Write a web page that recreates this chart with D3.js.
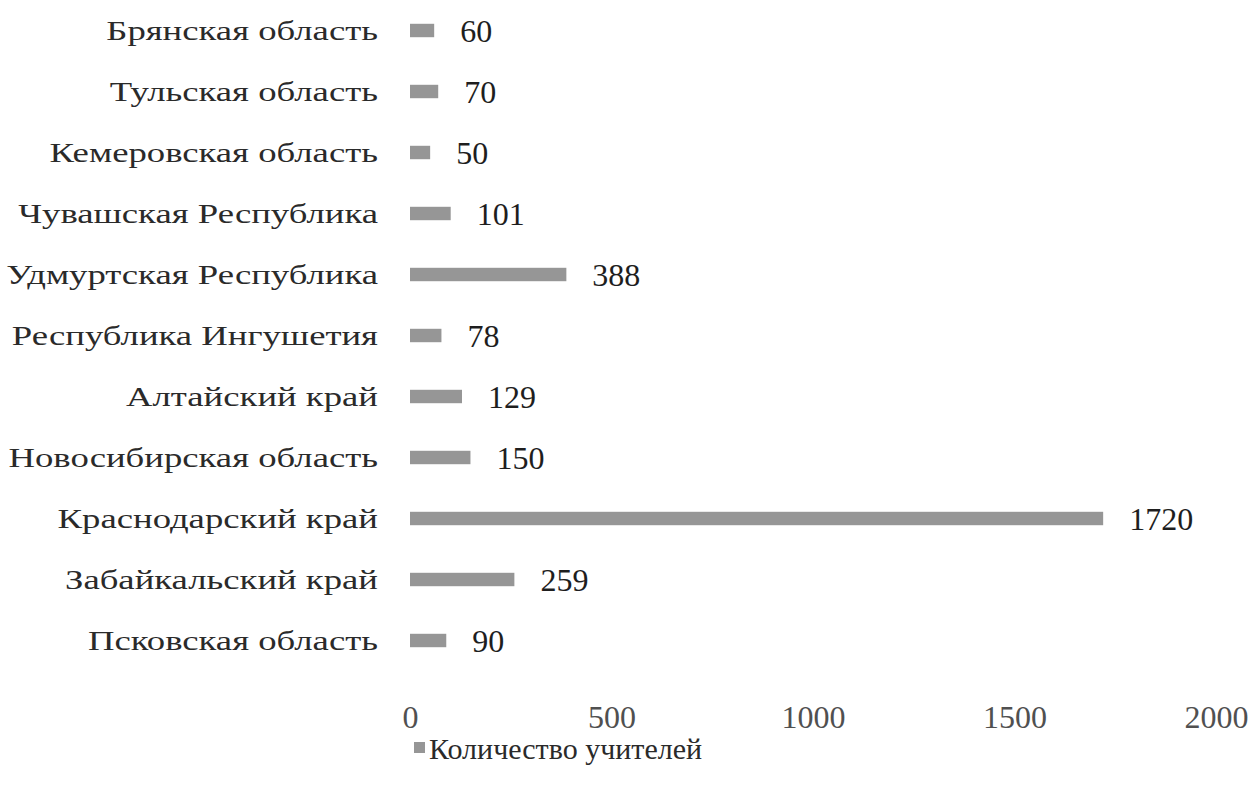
<!DOCTYPE html>
<html>
<head>
<meta charset="utf-8">
<script src="https://cdnjs.cloudflare.com/ajax/libs/d3/7.8.5/d3.min.js"></script>
<style>
  body { margin: 0; background: #fff; }
  text { font-family: "Liberation Serif", "DejaVu Serif", serif; }
</style>
</head>
<body>
<svg id="chart" width="1257" height="796"></svg>
<script>
  // regions, from top to bottom as drawn
  var regions = [
    "Брянская область",
    "Тульская область",
    "Кемеровская область",
    "Чувашская Республика",
    "Удмуртская Республика",
    "Республика Ингушетия",
    "Алтайский край",
    "Новосибирская область",
    "Краснодарский край",
    "Забайкальский край",
    "Псковская область"
  ];
  var teachers = [60, 70, 50, 101, 388, 78, 129, 150, 1720, 259, 90];
  var xTicks = [0, 500, 1000, 1500, 2000];
  var seriesName = "Количество учителей";

  var margin = {top: 0, left: 410, right: 41, bottom: 125};
  var W = 1257, H = 796;
  var plotW = W - margin.left - margin.right;
  var plotH = H - margin.top - margin.bottom;
  var barColor = "#969696";

  var svg = d3.select("#chart");
  var g = svg.append("g")
    .attr("transform", "translate(" + margin.left + "," + margin.top + ")");

  var x = d3.scaleLinear().domain([0, 2000]).range([0, plotW]);
  var y = d3.scaleBand().domain(regions).range([0, plotH])
    .paddingInner(0.78).paddingOuter(0.39);

  var data = regions.map(function(r, i) { return {name: r, value: teachers[i]}; });

  // bars
  g.selectAll("rect.bar")
    .data(data)
    .enter().append("rect")
    .attr("class", "bar")
    .attr("x", x(0))
    .attr("y", function(d) { return y(d.name); })
    .attr("width", function(d) { return x(d.value) - x(0); })
    .attr("height", y.bandwidth())
    .attr("fill", barColor);

  // value labels
  g.selectAll("text.val")
    .data(data)
    .enter().append("text")
    .attr("class", "val")
    .attr("x", function(d) { return x(d.value) + 26; })
    .attr("y", function(d) { return y(d.name) + y.bandwidth() / 2; })
    .attr("dy", "0.35em")
    .attr("font-size", 32)
    .attr("fill", "#1e1e1e")
    .text(function(d) { return d.value; });

  // category labels (the scan is wide, so stretch them horizontally)
  g.selectAll("text.cat")
    .data(data)
    .enter().append("text")
    .attr("class", "cat")
    .attr("transform", function(d) {
      return "translate(-32," + (y(d.name) + y.bandwidth() / 2) + ") scale(1.36,1)";
    })
    .attr("text-anchor", "end")
    .attr("dy", "0.35em")
    .attr("font-size", 27)
    .attr("fill", "#2a2a2a")
    .text(function(d) { return d.name; });

  // value axis (labels only)
  var xAxis = g.append("g")
    .attr("transform", "translate(0," + plotH + ")")
    .call(d3.axisBottom(x).tickValues(xTicks).tickFormat(d3.format("d")).tickSize(0).tickPadding(34));
  xAxis.select(".domain").remove();
  xAxis.selectAll("text")
    .attr("font-size", 32)
    .attr("fill", "#505050")
    .style("font-family", "Liberation Serif, serif");

  // legend
  var legend = svg.append("g").attr("transform", "translate(414,748)");
  legend.append("rect")
    .attr("x", 0).attr("y", -6)
    .attr("width", 11).attr("height", 11)
    .attr("fill", barColor);
  legend.append("text")
    .attr("x", 15).attr("y", 0)
    .attr("dy", "0.35em")
    .attr("font-size", 30)
    .attr("fill", "#2a2a2a")
    .text(seriesName);
</script>
</body>
</html>
